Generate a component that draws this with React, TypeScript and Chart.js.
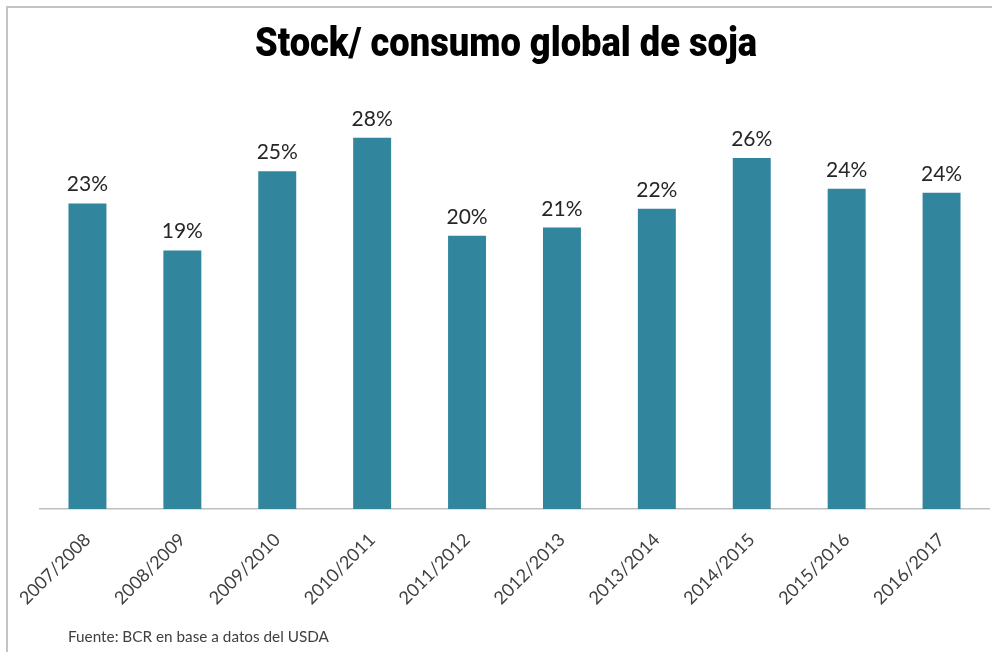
import React, { useEffect, useRef } from "react";
import { Chart, registerables } from "chart.js";

Chart.register(...registerables);

const categories = [
  "2007/2008",
  "2008/2009",
  "2009/2010",
  "2010/2011",
  "2011/2012",
  "2012/2013",
  "2013/2014",
  "2014/2015",
  "2015/2016",
  "2016/2017",
];
const values = [22.8, 19.3, 25.2, 27.7, 20.4, 21.0, 22.4, 26.2, 23.9, 23.6];
const titleText = "Stock/ consumo global de soja";
const sourceText = "Fuente: BCR en base a datos del USDA";
const yMin = 0;
const yMax = 30;

const W = 992;
const H = 652;

const decor = {
  id: "decor",
  beforeDraw(chart: any) {
    const ctx = chart.ctx;
    ctx.save();
    ctx.fillStyle = "#ffffff";
    ctx.fillRect(0, 0, W, H);
    ctx.fillStyle = "#c4c4c4";
    ctx.fillRect(6, 6, W - 6, 2);
    ctx.fillRect(6, 6, 2, H - 6);
    ctx.restore();
  },
  afterDatasetsDraw(chart: any) {
    const ctx = chart.ctx;
    const meta = chart.getDatasetMeta(0);
    ctx.save();
    ctx.font = "21px Lato";
    ctx.fillStyle = "#262626";
    ctx.textAlign = "center";
    ctx.textBaseline = "alphabetic";
    meta.data.forEach((bar: any, i: number) => {
      ctx.fillText(Math.round(values[i]) + "%", bar.x, bar.y - 12);
    });
    ctx.restore();
  },
  afterDraw(chart: any) {
    const ctx = chart.ctx;
    ctx.save();
    ctx.font = "900 41px Roboto";
    ctx.fillStyle = "#000000";
    const w = ctx.measureText(titleText).width;
    const sx = 502 / w;
    ctx.translate(506, 56);
    ctx.scale(sx, 1);
    ctx.textAlign = "center";
    ctx.textBaseline = "alphabetic";
    ctx.fillText(titleText, 0, 0);
    ctx.restore();

    ctx.save();
    ctx.font = "15.3px Lato";
    ctx.fillStyle = "#404040";
    ctx.textAlign = "left";
    ctx.textBaseline = "alphabetic";
    ctx.fillText(sourceText, 68, 642);
    ctx.restore();
  },
};

export default function App() {
  const ref = useRef<HTMLCanvasElement | null>(null);
  useEffect(() => {
    if (!ref.current) return;
    const chart = new Chart(ref.current, {
      type: "bar",
      data: {
        labels: categories,
        datasets: [
          {
            data: values,
            backgroundColor: "#31859C",
            barPercentage: 0.8,
            categoryPercentage: 0.5,
          },
        ],
      },
      options: {
        responsive: false,
        devicePixelRatio: 1,
        animation: false,
        layout: { padding: { left: 40, right: 3, top: 107, bottom: 0 } },
        plugins: {
          legend: { display: false },
          tooltip: { enabled: false },
          title: { display: false },
        },
        scales: {
          x: {
            grid: { display: false, drawTicks: false },
            border: { display: true, color: "#bfbfbf", width: 1.5 },
            ticks: {
              minRotation: 45,
              maxRotation: 45,
              autoSkip: false,
              padding: 20,
              color: "#404040",
              font: { family: "Lato", size: 18 },
            },
            afterFit(scale: any) {
              scale.height = 143;
            },
          },
          y: { display: false, min: yMin, max: yMax },
        },
      },
      plugins: [decor],
    });
    return () => chart.destroy();
  }, []);
  return (
    <div
      style={{
        position: "fixed",
        left: 0,
        top: 0,
        width: W,
        height: H,
        background: "#fff",
      }}
    >
      <canvas ref={ref} width={W} height={H} style={{ display: "block" }} />
    </div>
  );
}
